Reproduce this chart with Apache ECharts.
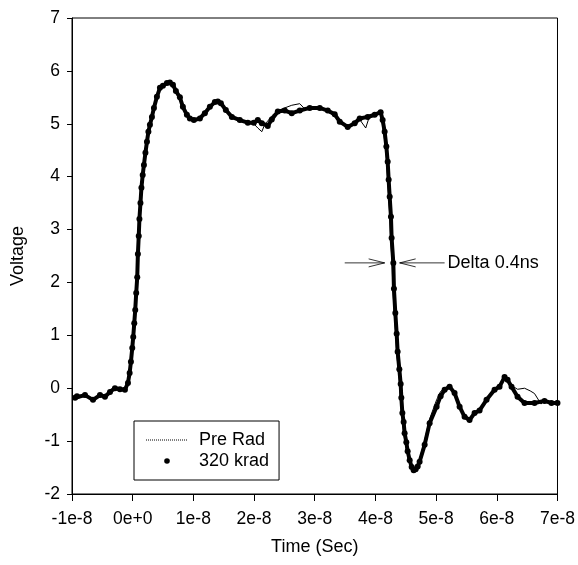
<!DOCTYPE html>
<html>
<head>
<meta charset="utf-8">
<script src="https://cdn.jsdelivr.net/npm/echarts@6/dist/echarts.min.js"></script>
<style>
  html, body { margin: 0; padding: 0; background: #fff; }
  #chart { width: 578px; height: 565px; }
</style>
</head>
<body>
<div id="chart"></div>
<script>
// time in ns (axis labels are shown in seconds), voltage in V
var kradTime = [-9.5, -9.18, -7.86, -6.54, -5.39, -4.57, -3.74, -2.92, -2.10, -1.28, -0.78, -0.50, -0.29, -0.07, 0.09, 0.26, 0.42, 0.58, 0.75, 0.86, 1.00, 1.11, 1.28, 1.44, 1.65, 1.85, 2.10, 2.35, 2.59, 2.84, 3.17, 3.50, 3.99, 4.49, 4.98, 5.64, 6.13, 6.63, 7.12, 7.78, 8.27, 8.93, 9.42, 10.08, 11.07, 11.89, 12.72, 13.54, 14.03, 14.53, 15.35, 16.34, 17.65, 18.97, 19.96, 20.62, 21.28, 22.26, 22.92, 23.91, 25.06, 26.21, 27.53, 29.18, 30.82, 32.14, 33.29, 34.12, 35.43, 36.58, 37.41, 38.72, 39.88, 40.86, 41.19, 41.52, 41.80, 42.02, 42.18, 42.35, 42.56, 42.67, 42.95, 43.05, 43.28, 43.50, 43.66, 43.94, 44.16, 44.27, 44.44, 44.65, 44.81, 45.09, 45.31, 45.64, 45.97, 46.30, 46.63, 46.96, 47.28, 48.11, 48.93, 50.08, 50.74, 51.40, 52.22, 53.04, 53.87, 54.69, 55.51, 56.34, 57.16, 58.31, 59.63, 60.45, 61.28, 61.77, 62.43, 63.42, 64.57, 66.21, 67.86, 69.01, 70.0];
var kradVolt = [-0.18, -0.15, -0.13, -0.22, -0.13, -0.16, -0.07, 0.0, -0.02, -0.03, 0.10, 0.29, 0.50, 0.76, 0.97, 1.23, 1.48, 1.80, 2.10, 2.54, 2.88, 3.20, 3.50, 3.79, 4.03, 4.22, 4.45, 4.66, 4.85, 4.98, 5.13, 5.30, 5.51, 5.68, 5.72, 5.77, 5.78, 5.74, 5.62, 5.50, 5.32, 5.17, 5.10, 5.07, 5.10, 5.20, 5.32, 5.41, 5.42, 5.39, 5.26, 5.13, 5.07, 5.02, 5.02, 5.07, 5.01, 4.96, 5.08, 5.23, 5.25, 5.20, 5.25, 5.30, 5.30, 5.25, 5.18, 5.04, 4.94, 5.01, 5.10, 5.13, 5.17, 5.22, 5.07, 4.85, 4.57, 4.28, 3.94, 3.62, 3.24, 2.84, 2.37, 1.88, 1.42, 1.03, 0.69, 0.36, 0.08, -0.18, -0.47, -0.64, -0.85, -1.02, -1.19, -1.36, -1.49, -1.55, -1.53, -1.48, -1.39, -1.07, -0.66, -0.35, -0.15, -0.03, 0.03, -0.09, -0.35, -0.54, -0.60, -0.47, -0.42, -0.22, -0.03, 0.03, 0.21, 0.16, 0.03, -0.16, -0.28, -0.28, -0.24, -0.28, -0.28];

var preTime = [-9.5, -7.86, -6.54, -5.39, -4.57, -3.74, -2.92, -2.10, -1.28, -0.78, -0.50, -0.29, -0.07, 0.09, 0.26, 0.42, 0.58, 0.75, 0.86, 1.00, 1.11, 1.28, 1.44, 1.65, 1.85, 2.10, 2.35, 2.59, 2.84, 3.17, 3.50, 3.99, 4.49, 4.98, 5.64, 6.13, 6.63, 7.12, 7.78, 8.27, 8.93, 9.42, 10.08, 11.07, 11.89, 12.72, 13.54, 14.03, 14.53, 15.35, 16.34, 17.65, 18.97, 19.96, 20.62, 21.28, 21.80, 22.26, 22.92, 23.91, 25.06, 26.21, 27.53, 28.20, 29.18, 30.82, 32.14, 33.29, 34.12, 35.43, 36.58, 37.41, 38.40, 38.90, 39.88, 40.86, 41.00, 41.35, 41.65, 41.85, 42.00, 42.17, 42.38, 42.50, 42.75, 42.87, 43.10, 43.32, 43.48, 43.76, 43.98, 44.10, 44.28, 44.50, 44.65, 44.95, 45.20, 45.55, 45.90, 46.30, 46.63, 46.96, 47.28, 48.11, 48.93, 50.08, 50.74, 51.40, 52.22, 53.04, 53.87, 54.69, 55.51, 56.34, 57.16, 58.31, 59.63, 60.45, 61.28, 61.77, 62.43, 63.42, 64.57, 65.50, 66.21, 67.30, 67.86, 69.01, 70.0];
var preVolt = [-0.15, -0.12, -0.20, -0.12, -0.17, -0.06, 0.0, -0.02, -0.03, 0.08, 0.26, 0.48, 0.74, 0.95, 1.20, 1.46, 1.78, 2.08, 2.50, 2.85, 3.18, 3.48, 3.78, 4.02, 4.22, 4.45, 4.66, 4.84, 4.97, 5.12, 5.29, 5.50, 5.67, 5.72, 5.76, 5.76, 5.70, 5.60, 5.45, 5.30, 5.15, 5.08, 5.06, 5.10, 5.20, 5.32, 5.40, 5.42, 5.38, 5.25, 5.12, 5.06, 5.02, 5.00, 4.92, 4.85, 5.00, 5.05, 5.15, 5.25, 5.30, 5.35, 5.38, 5.30, 5.28, 5.32, 5.22, 5.15, 5.05, 4.96, 5.02, 5.08, 4.92, 5.10, 5.15, 5.20, 5.10, 4.85, 4.55, 4.28, 3.94, 3.62, 3.24, 2.84, 2.37, 1.88, 1.42, 1.03, 0.69, 0.36, 0.08, -0.18, -0.47, -0.66, -0.85, -1.04, -1.22, -1.38, -1.50, -1.56, -1.52, -1.45, -1.34, -0.98, -0.58, -0.22, -0.06, 0.0, 0.02, -0.10, -0.36, -0.55, -0.58, -0.46, -0.40, -0.20, -0.02, 0.05, 0.22, 0.14, 0.05, -0.02, 0.0, -0.05, -0.10, -0.30, -0.20, -0.30, -0.22];

var seriesNames = ['Pre Rad', '320 krad'];

// annotation (data coordinates)
var deltaY = 2.37;
var leftArrow = [34.94, 41.52];   // tail, tip
var rightArrow = [51.40, 43.99];  // tail, tip
var deltaText = 'Delta 0.4ns';

function zip(xs, ys) {
  return xs.map(function (x, i) { return [x, ys[i]]; });
}

var chart = echarts.init(document.getElementById('chart'));
var font = 'Liberation Sans, Arial, sans-serif';

chart.setOption({
  animation: false,
  backgroundColor: '#fff',
  grid: {
    left: 72, right: 20, top: 18, bottom: 71,
    show: true, borderColor: '#000', borderWidth: 1
  },
  xAxis: {
    type: 'value',
    min: -10, max: 70, interval: 10,
    name: 'Time (Sec)',
    nameLocation: 'middle',
    nameGap: 44,
    nameTextStyle: { color: '#000', fontSize: 18, fontFamily: font },
    axisLine: { onZero: false, lineStyle: { color: '#000' } },
    axisTick: { length: 7, lineStyle: { color: '#000' } },
    axisLabel: {
      color: '#000', fontSize: 17.5, fontFamily: font, margin: 16,
      formatter: function (v) { return v === 0 ? '0e+0' : (v / 10) + 'e-8'; }
    },
    splitLine: { show: false }
  },
  yAxis: {
    type: 'value',
    min: -2, max: 7, interval: 1,
    name: 'Voltage',
    nameLocation: 'middle',
    nameGap: 45,
    nameTextStyle: { color: '#000', fontSize: 18, fontFamily: font },
    axisLine: { onZero: false, lineStyle: { color: '#000' } },
    axisTick: { length: 5, lineStyle: { color: '#000' } },
    axisLabel: { color: '#000', fontSize: 17.5, fontFamily: font, margin: 12 },
    splitLine: { show: false }
  },
  legend: {
    orient: 'vertical',
    left: 134, top: 421,
    padding: [10, 10, 10, 11],
    itemWidth: 42, itemHeight: 7, itemGap: 3,
    borderColor: '#000', borderWidth: 1,
    textStyle: { color: '#000', fontSize: 18, fontFamily: font, padding: [0, 0, 0, 6] },
    data: [
      { name: seriesNames[0], itemStyle: { opacity: 0 }, lineStyle: { type: 'dotted', width: 1, color: '#000' } },
      { name: seriesNames[1], lineStyle: { opacity: 0 } }
    ]
  },
  series: [
    {
      name: seriesNames[0],
      type: 'line',
      data: zip(preTime, preVolt),
      symbol: 'none',
      lineStyle: { color: '#000', width: 1 },
      itemStyle: { color: '#000' },
      z: 2
    },
    {
      name: seriesNames[1],
      type: 'line',
      data: zip(kradTime, kradVolt),
      symbol: 'circle',
      symbolSize: 6,
      showSymbol: true,
      lineStyle: { color: '#000', width: 4 },
      itemStyle: { color: '#000' },
      z: 3
    }
  ]
});

// arrows and text for the delta annotation
var lt = chart.convertToPixel({ gridIndex: 0 }, [leftArrow[0], deltaY]);
var lh = chart.convertToPixel({ gridIndex: 0 }, [leftArrow[1], deltaY]);
var rt = chart.convertToPixel({ gridIndex: 0 }, [rightArrow[0], deltaY]);
var rh = chart.convertToPixel({ gridIndex: 0 }, [rightArrow[1], deltaY]);
var arm = 16, spread = 4;
var stroke = { stroke: '#000', lineWidth: 0.8, fill: null };

chart.setOption({
  graphic: [
    { type: 'line', shape: { x1: lt[0], y1: lt[1], x2: lh[0], y2: lh[1] }, style: stroke, z: 10 },
    { type: 'polyline', shape: { points: [[lh[0] - arm, lh[1] - spread], [lh[0], lh[1]], [lh[0] - arm, lh[1] + spread]] }, style: stroke, z: 10 },
    { type: 'line', shape: { x1: rt[0], y1: rt[1], x2: rh[0], y2: rh[1] }, style: stroke, z: 10 },
    { type: 'polyline', shape: { points: [[rh[0] + arm, rh[1] - spread], [rh[0], rh[1]], [rh[0] + arm, rh[1] + spread]] }, style: stroke, z: 10 },
    {
      type: 'text', x: rt[0] + 3, y: rt[1], z: 10,
      style: { text: deltaText, fill: '#000', font: '18px ' + font, textVerticalAlign: 'middle', textAlign: 'left' }
    }
  ]
});
</script>
</body>
</html>
